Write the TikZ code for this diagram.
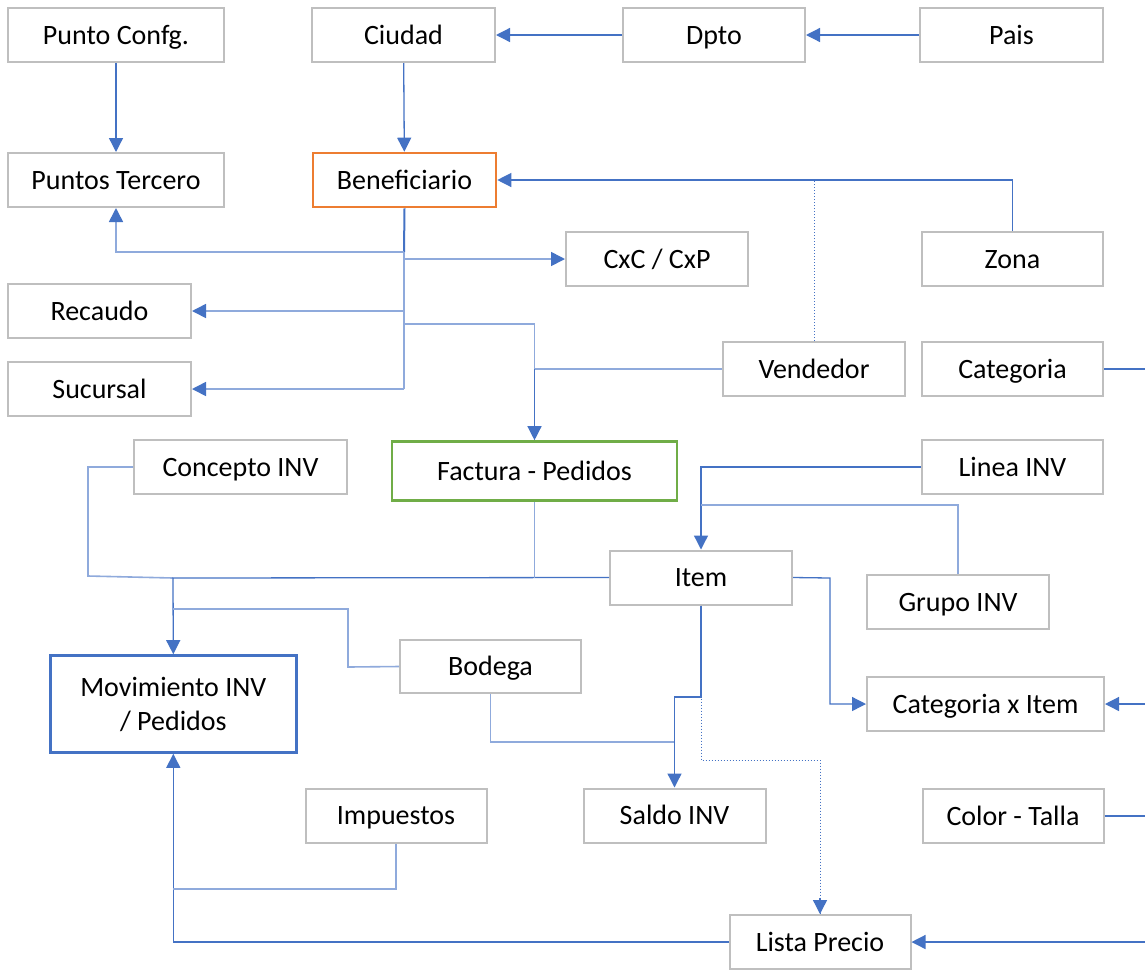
\documentclass[tikz,border=0pt]{standalone}
\usepackage{fontspec}
\setmainfont{Carlito}
\usetikzlibrary{arrows.meta}
\definecolor{lnblue}{HTML}{4472C4}
\definecolor{lnlight}{HTML}{8FAADC}
\definecolor{boxgray}{HTML}{BFBFBF}
\definecolor{orng}{HTML}{ED7D31}
\definecolor{grn}{HTML}{70AD47}
\begin{document}
\begin{tikzpicture}[x=1pt,y=-1pt,
  box/.style={draw=boxgray, line width=2pt, fill=white, minimum height=54pt, inner sep=0pt, font=\fontsize{28}{34}\selectfont, align=center, text height=22pt, text depth=4pt},
  conn/.style={draw=lnblue, line width=1.3pt},
  connl/.style={draw=lnlight, line width=1.6pt},
  dotc/.style={draw=lnblue, line width=1pt, dotted},
  arr/.style={-{Triangle[length=14pt,width=14pt,color=lnblue]}}
]
\useasboundingbox (0,0) rectangle (1145,970);
\fill[white] (0,0) rectangle (1145,970);
% nodes
\node[box, minimum width=216pt] (pc) at (116,35) {Punto Confg.};
\node[box, minimum width=183pt] (ciu) at (403.5,35) {Ciudad};
\node[box, minimum width=182pt] (dpto) at (714,35) {Dpto};
\node[box, minimum width=183pt] (pais) at (1011.5,35) {Pais};
\node[box, minimum width=216pt] (pt) at (116,180) {Puntos Tercero};
\node[box, minimum width=183pt, draw=orng, line width=2.6pt] (ben) at (404.5,180) {Beneficiario};
\node[box, minimum width=182pt] (cxc) at (657,259) {CxC / CxP};
\node[box, minimum width=181pt] (zona) at (1012.5,259) {Zona};
\node[box, minimum width=183pt] (rec) at (99.5,311) {Recaudo};
\node[box, minimum width=182pt] (vend) at (814,369) {Vendedor};
\node[box, minimum width=181pt] (cat) at (1012.5,369) {Categoria};
\node[box, minimum width=183pt] (suc) at (99.5,389) {Sucursal};
\node[box, minimum width=213pt] (conc) at (240.5,467) {Concepto INV};
\node[box, minimum width=285pt, minimum height=59pt, draw=grn, line width=2.6pt] (fact) at (534.5,471) {Factura - Pedidos};
\node[box, minimum width=181pt] (linea) at (1012.5,467) {Linea INV};
\node[box, minimum width=182pt] (item) at (701,577.5) {Item};
\node[box, minimum width=182pt] (grupo) at (958,602) {Grupo INV};
\node[box, minimum width=246pt, minimum height=97pt, draw=lnblue, line width=2.6pt, text height=, text depth=] (mov) at (173.3,704) {Movimiento INV\\/ Pedidos};
\node[box, minimum width=181pt, minimum height=53pt] (bod) at (490.5,666.5) {Bodega};
\node[box, minimum width=237pt] (catit) at (985.5,704) {Categoria x Item};
\node[box, minimum width=182pt] (saldo) at (674.5,815.5) {Saldo INV};
\node[box, minimum width=181pt] (imp) at (396,815.5) {Impuestos};
\node[box, minimum width=181pt] (color) at (1013,816) {Color - Talla};
\node[box, minimum width=181pt] (lista) at (820,942) {Lista Precio};
% helper coordinates
\coordinate (b1) at (404,252);
\coordinate (b2) at (404,259);
\coordinate (b3) at (404,311);
\coordinate (b4) at (404,324);
\coordinate (b5) at (404,389);
\coordinate (eCat) at (1146,369);
\coordinate (eCI) at (1146,704);
\coordinate (eCT) at (1146,816);
\coordinate (eLP) at (1146,942);
\coordinate (gj) at (701,505);
\coordinate (c1) at (88,467);
\coordinate (c2) at (88,576);
\coordinate (hj) at (173,578);
\coordinate (bw) at (348,667);
\coordinate (bj) at (173,609);
\coordinate (sj) at (674.5,742);
\coordinate (i1) at (701,697);
\coordinate (i2) at (701,760);
\coordinate (i3) at (830,578);
\coordinate (mj) at (173,889);
% connectors
\draw[conn,arr] (pc) -- (pt);
\draw[conn,arr] (ciu) -- (ben);
\draw[conn,arr] (dpto) -- (ciu);
\draw[conn,arr] (pais) -- (dpto);
\draw[conn,arr] (zona.north) |- (ben.east);
\draw[dotc] (vend.north) -- (vend.north |- ben.east);
\draw[conn, line width=2pt] (ben.south) -- (b1);
\draw[connl,arr] (b1) -| (pt.south);
\draw[connl] (b1) -- (b5);
\draw[connl,arr] (b2) -- (cxc.west);
\draw[connl,arr] (b3) -- (rec.east);
\draw[connl,arr] (b5) -- (suc.east);
\draw[connl] (b4) -| (fact.north);
\draw[connl] (vend.west) -| (fact.north);
\draw[conn,arr] (fact.north |- vend.west) -- (fact.north);
\draw[conn] (cat.east) -- (eCat);
\draw[conn,arr] (linea.west) -| (item.north);
\draw[connl] (grupo.north) |- (gj);
\draw[connl] (conc.west) -- (c1) -- (c2) -- (hj);
\draw[conn,arr] (item.west) -- (hj) -- (mov.north);
\draw[connl] (fact.south) -- (fact.south |- item.west);
\draw[connl] (bod.west) -- (bw) |- (bj);
\draw[connl] (bod.south) |- (sj);
\draw[conn,arr] (item.south) -- (i1) -| (saldo.north);
\draw[dotc] (item.south) -- (i2) -| (lista.north);
\draw[conn,arr] ([yshift=16pt]lista.north) -- (lista.north);
\draw[conn,arr] (item.east) -- (i3) |- (catit.west);
\draw[conn,arr] (eCI) -- (catit.east);
\draw[conn] (color.east) -- (eCT);
\draw[conn,arr] (eLP) -- (lista.east);
\draw[conn,arr] (lista.west) -| (mov.south);
\draw[connl] (imp.south) |- (mj);
\end{tikzpicture}
\end{document}
